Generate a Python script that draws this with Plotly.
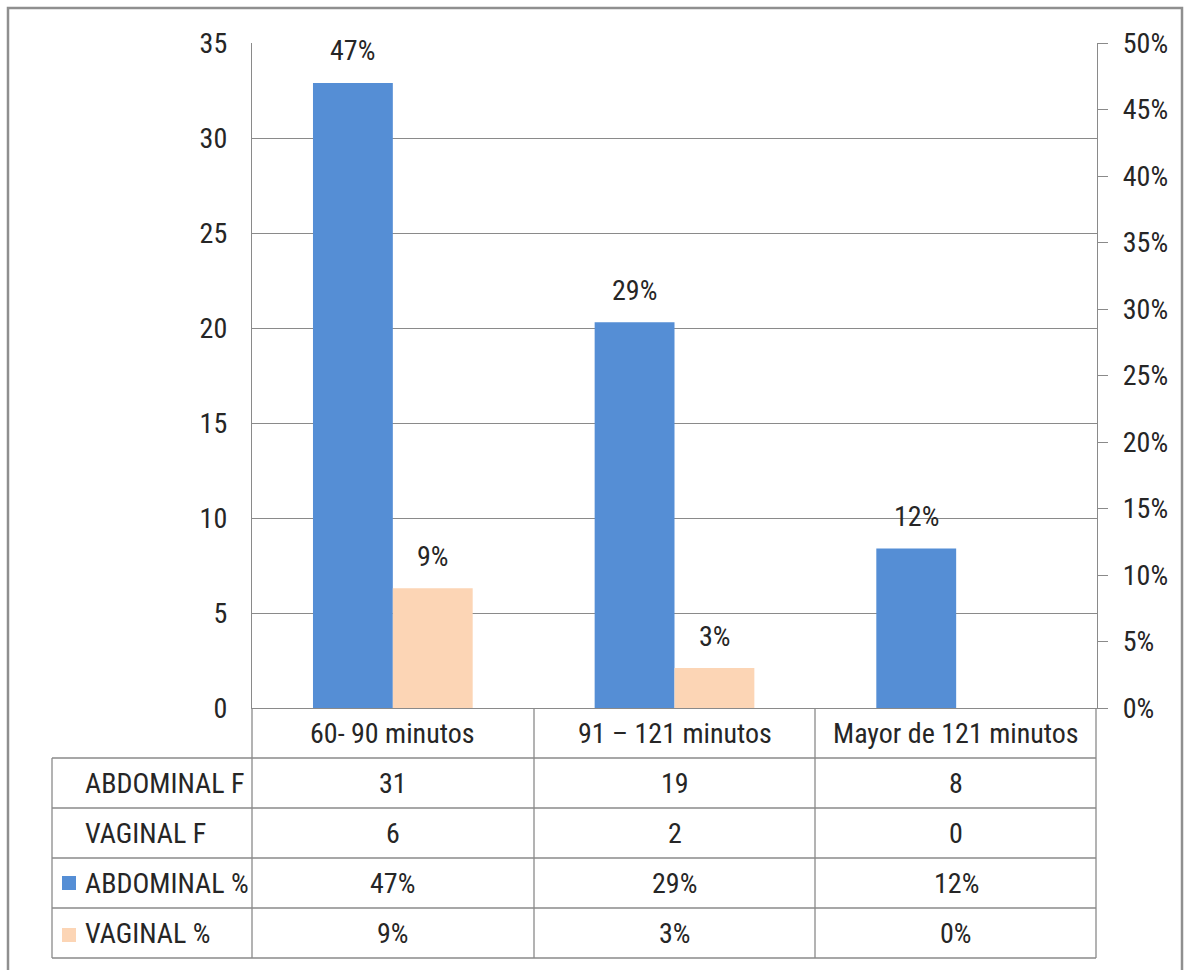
import plotly.graph_objects as go

# ---------------- data ----------------
categories = ["60- 90 minutos", "91 – 121 minutos", "Mayor de 121 minutos"]
abdominal_f = [31, 19, 8]
vaginal_f = [6, 2, 0]
abdominal_pct = [47, 29, 12]
vaginal_pct = [9, 3, 0]
row_labels = ["ABDOMINAL F", "VAGINAL F", "ABDOMINAL %", "VAGINAL %"]
left_ticks = [0, 5, 10, 15, 20, 25, 30, 35]
right_ticks = [0, 5, 10, 15, 20, 25, 30, 35, 40, 45, 50]
right_tick_text = ["0%", "5%", "10%", "15%", "20%", "25%", "30%", "35%", "40%", "45%", "50%"]

# ---------------- style ----------------
W, H = 1186, 970
L, R, T, B = 252, 89, 43, 262
PW, PH = W - L - R, H - T - B
BLUE = "#558ED5"
PEACH = "#FCD5B5"
GRID = "#8a8a8a"
TXT = "#262626"
FONT = "Liberation Sans Narrow, Roboto Condensed, Roboto, sans-serif"
FS = 28


def px_x(x):
    return (x - L) / PW


def px_y(y):
    return (H - B - y) / PH


fig = go.Figure()

# invisible helper trace so the left (count) axis exists
fig.add_trace(go.Scatter(x=categories, y=abdominal_f, yaxis="y", mode="markers",
                         marker=dict(opacity=0), hoverinfo="skip", showlegend=False))

fig.add_trace(go.Bar(x=categories, y=abdominal_pct, yaxis="y2", name="ABDOMINAL %",
                     marker=dict(color=BLUE, line=dict(width=0)), showlegend=False))
fig.add_trace(go.Bar(x=categories, y=vaginal_pct, yaxis="y2", name="VAGINAL %",
                     marker=dict(color=PEACH, line=dict(width=0)), showlegend=False))

annotations = []
# data labels above bars
for vals, shift in ((abdominal_pct, -40), (vaginal_pct, 40)):
    for c, v in zip(categories, vals):
        if v > 0:
            annotations.append(dict(x=c, xref="x", y=v, yref="y2", xshift=shift, yshift=32,
                                    yanchor="middle", text=f"{v}%", showarrow=False,
                                    font=dict(size=FS, color=TXT, family=FONT)))

# table: header row (categories) and data rows
row_centers = [783, 833, 883, 933]
for c in categories:
    annotations.append(dict(x=c, xref="x", y=px_y(733), yref="paper", text=c,
                            showarrow=False, yanchor="middle",
                            font=dict(size=FS, color=TXT, family=FONT)))
table_rows = [
    [str(v) for v in abdominal_f],
    [str(v) for v in vaginal_f],
    [f"{v}%" for v in abdominal_pct],
    [f"{v}%" for v in vaginal_pct],
]
for yc, lab, vals in zip(row_centers, row_labels, table_rows):
    annotations.append(dict(x=px_x(83), xref="paper", y=px_y(yc), yref="paper", text=lab,
                            showarrow=False, xanchor="left", yanchor="middle",
                            font=dict(size=FS, color=TXT, family=FONT)))
    for c, t in zip(categories, vals):
        annotations.append(dict(x=c, xref="x", y=px_y(yc), yref="paper", text=t,
                                showarrow=False, yanchor="middle",
                                font=dict(size=FS, color=TXT, family=FONT)))

shapes = []
line = dict(color=GRID, width=1.3)
# horizontal table lines
for y in (758, 808, 858, 908, 958):
    shapes.append(dict(type="line", xref="paper", yref="paper", x0=px_x(52), x1=px_x(1096),
                       y0=px_y(y), y1=px_y(y), line=line))
# vertical table lines
for x in (252, 534, 815, 1096):
    shapes.append(dict(type="line", xref="paper", yref="paper", x0=px_x(x), x1=px_x(x),
                       y0=px_y(708), y1=px_y(958), line=line))
shapes.append(dict(type="line", xref="paper", yref="paper", x0=px_x(52), x1=px_x(52),
                   y0=px_y(758), y1=px_y(958), line=line))
# legend keys
shapes.append(dict(type="rect", xref="paper", yref="paper", x0=px_x(62), x1=px_x(76),
                   y0=px_y(876), y1=px_y(890), fillcolor=BLUE, line=dict(width=0)))
shapes.append(dict(type="rect", xref="paper", yref="paper", x0=px_x(62), x1=px_x(76),
                   y0=px_y(928), y1=px_y(942), fillcolor=PEACH, line=dict(width=0)))
# outer chart border
shapes.append(dict(type="rect", xref="paper", yref="paper", x0=px_x(8), x1=px_x(1182),
                   y0=px_y(8), y1=px_y(990), line=dict(color="#8f8f8f", width=2.5),
                   fillcolor="rgba(0,0,0,0)", layer="above"))

fig.update_layout(
    width=W, height=H,
    margin=dict(l=L, r=R, t=T, b=B, pad=0),
    paper_bgcolor="white", plot_bgcolor="white",
    barmode="group", bargap=0.433, bargroupgap=0,
    font=dict(family=FONT, size=FS, color=TXT),
    xaxis=dict(type="category", range=[-0.5, 2.5], showticklabels=False, ticks="",
               showgrid=False, zeroline=False, showline=True, linecolor=GRID, linewidth=1.3),
    yaxis=dict(range=[0, 35], tickvals=left_ticks, showgrid=True, gridcolor=GRID, gridwidth=1.3,
               zeroline=False, showline=True, linecolor=GRID, linewidth=1.3, ticks="",
               ticklabelstandoff=18, tickfont=dict(size=FS, color=TXT, family=FONT)),
    yaxis2=dict(range=[0, 50], tickmode="array", tickvals=right_ticks, ticktext=right_tick_text,
                overlaying="y", side="right",
                showgrid=False, zeroline=False, showline=True, linecolor=GRID, linewidth=1.3,
                ticks="outside", ticklen=10, tickcolor=GRID, tickwidth=1.3,
                ticklabelstandoff=9, tickfont=dict(size=FS, color=TXT, family=FONT)),
    annotations=annotations,
    shapes=shapes,
    showlegend=False,
)

fig.write_html("out.html")
